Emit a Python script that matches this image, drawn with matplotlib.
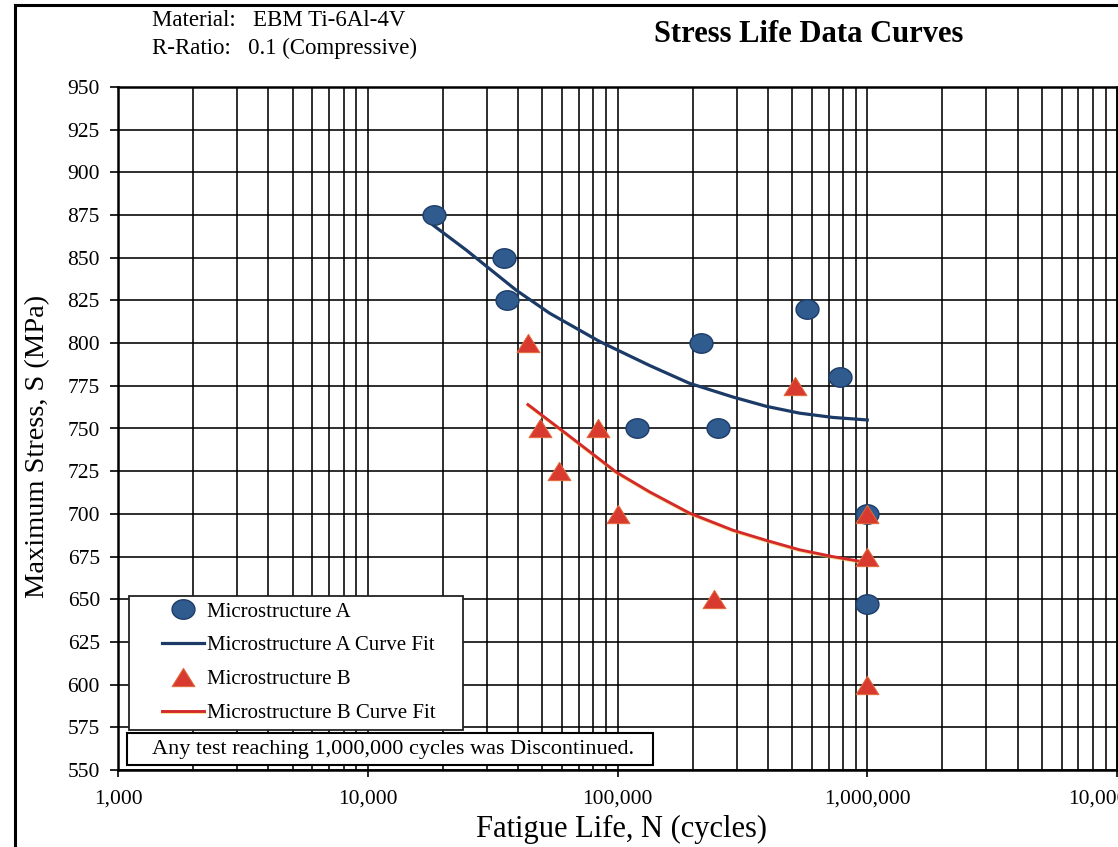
import numpy as np
import matplotlib
matplotlib.use("Agg")
import matplotlib.pyplot as plt
from matplotlib.lines import Line2D
from matplotlib.patches import Rectangle
from matplotlib.path import Path
from matplotlib.ticker import LogLocator, FuncFormatter, NullFormatter
import matplotlib.patheffects as pe

plt.rcParams['font.family'] = ['Liberation Serif', 'DejaVu Serif']

# Microstructure A test results (cycles, MPa)
life_a = [18400, 35000, 36000, 120000, 215000, 253000, 572000, 778000, 1000000, 1000000]
stress_a = [875, 850, 825, 750, 800, 750, 820, 780, 700, 647]

# Microstructure B test results (cycles, MPa)
life_b = [43900, 48800, 58200, 83400, 100000, 244000, 515000, 1000000, 1000000, 1000000]
stress_b = [800, 750, 725, 750, 700, 650, 775, 700, 675, 600]

# Curve fit traces
fit_life_a = [18300, 24800, 39300, 53500, 84700, 134000, 194000, 289000, 394000, 535000, 726000, 1000000]
fit_stress_a = [869, 854.5, 831, 817.5, 801, 787, 776.5, 768.5, 763, 759, 756.5, 755]
fit_life_b = [43800, 62300, 98800, 134000, 194000, 289000, 394000, 535000, 726000, 1000000]
fit_stress_b = [764, 747, 724.5, 713, 700.5, 690.5, 684.5, 679, 675, 671.5]

y_ticks = list(range(550, 951, 25))

# slightly squat circle / triangle markers
t = np.linspace(0, 2 * np.pi, 60)
ellipse = Path(np.column_stack([np.cos(t), 0.85 * np.sin(t)]), closed=True)
tri = Path([[0, 0.8], [-1, -0.8], [1, -0.8], [0, 0.8]], closed=True)

W, H = 1118, 847
fig = plt.figure(figsize=(W / 100, H / 100), dpi=100)
ax = fig.add_axes([118 / W, 1 - 770 / H, 999 / W, (770 - 87) / H])

ax.set_xscale('log')
ax.set_xlim(1e3, 1e7)
ax.set_ylim(550, 950)

b_shadow = [pe.SimpleLineShadow(offset=(0, -0.7), shadow_color='#F2C84A', alpha=0.6), pe.Normal()]

ax.plot(life_a, stress_a, linestyle='none', marker=ellipse, markersize=16.5,
        markerfacecolor='#2F5B8F', markeredgecolor='#1D3D68', markeredgewidth=1,
        label='Microstructure A', zorder=4)
ax.plot(fit_life_a, fit_stress_a, color='#1B3A66', lw=2.3,
        label='Microstructure A Curve Fit', zorder=3)
ax.plot(life_b, stress_b, linestyle='none', marker=tri, markersize=16.5,
        markerfacecolor='#D93A30', markeredgecolor='#E26A3A', markeredgewidth=0.7,
        label='Microstructure B', zorder=5)
ax.plot(fit_life_b, fit_stress_b, color='#D42A2A', lw=2.1, path_effects=b_shadow,
        label='Microstructure B Curve Fit', zorder=3)

# grid on every decade subdivision and every 25 MPa
ax.xaxis.set_major_locator(LogLocator(base=10, numticks=10))
ax.xaxis.set_minor_locator(LogLocator(base=10, subs=np.arange(2, 10), numticks=100))
ax.xaxis.set_minor_formatter(NullFormatter())
ax.xaxis.set_major_formatter(FuncFormatter(lambda v, p: f'{int(round(v)):,}'))
ax.set_yticks(y_ticks)
ax.grid(which='both', color='black', lw=1.15)
ax.set_axisbelow(True)

ax.tick_params(axis='x', which='major', direction='out', length=5, width=1.2, pad=9, labelsize=15.5)
ax.tick_params(axis='x', which='minor', length=0)
ax.tick_params(axis='y', direction='out', length=6, width=1.2, pad=7, labelsize=15.5)
for s in ax.spines.values():
    s.set_linewidth(1.8)

# legend: own frame, entries placed inside it
ax.add_patch(Rectangle((11 / 999, (770 - 730) / 683), 334 / 999, 134 / 683, transform=ax.transAxes,
                       facecolor='white', edgecolor='#222222', lw=1.3, zorder=6))
leg = ax.legend(loc='upper left', bbox_to_anchor=(44 / 999, (770 - 602) / 683), borderaxespad=0,
                fontsize=15, frameon=False, labelspacing=0.68, handlelength=2.0,
                handletextpad=0.15, borderpad=0)
leg.set_zorder(7)

# discontinued note
ax.add_patch(Rectangle((9 / 999, 5 / 683), 526 / 999, 32 / 683, transform=ax.transAxes,
                       facecolor='white', edgecolor='black', lw=1.5, zorder=6, clip_on=False))
ax.text(34 / 999, 21 / 683, 'Any test reaching 1,000,000 cycles was Discontinued.',
        transform=ax.transAxes, fontsize=16, va='center', ha='left', zorder=7)

fig.text(152 / W, 1 - 21 / H, 'Material:   EBM Ti-6Al-4V', fontsize=16.5, va='center')
fig.text(152 / W, 1 - 48 / H, 'R-Ratio:   0.1 (Compressive)', fontsize=16.5, va='center')
fig.text(809 / W, 1 - 35 / H, 'Stress Life Data Curves', fontsize=22, fontweight='bold',
         ha='center', va='center')
fig.text(622 / W, 1 - 829 / H, 'Fatigue Life, N (cycles)', fontsize=22, ha='center', va='center')
fig.text(38 / W, 1 - 446 / H, 'Maximum Stress, S (MPa)', fontsize=20.5, rotation=90,
         ha='center', va='center')

# page frame
fig.add_artist(Line2D([15 / W, 15 / W], [0, 1 - 5 / H], color='black', lw=2.2))
fig.add_artist(Line2D([15 / W, 1], [1 - 5 / H, 1 - 5 / H], color='black', lw=2.2))

fig.savefig('out.png', dpi=100)
